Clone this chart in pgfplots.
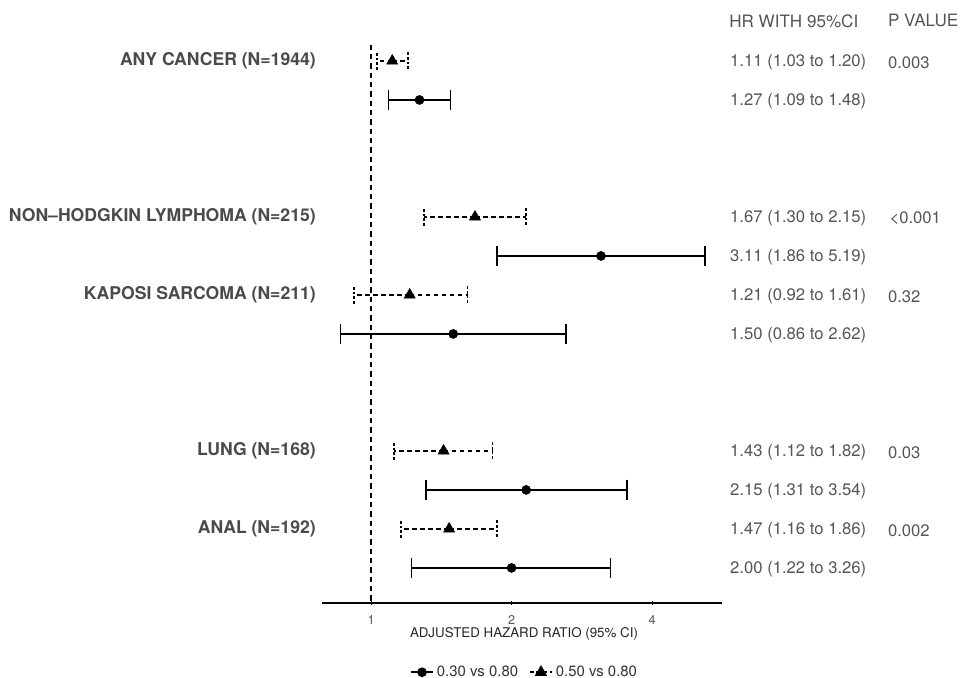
\documentclass[border=0pt]{standalone}
\usepackage{fontspec}
\setmainfont{TeX Gyre Heros}
\usepackage{pgfplots}
\usepackage{pgfplotstable}
\pgfplotsset{compat=1.18}
\definecolor{lab}{HTML}{4A4A4A}
\definecolor{txt}{HTML}{555555}

% rows: y = -row index
\pgfplotstableread{
y x lo hi
-1 1.27 1.09 1.48
-5 3.11 1.86 5.19
-7 1.50 0.86 2.62
-11 2.15 1.31 3.54
-13 2.00 1.22 3.26
}\circdata

\pgfplotstableread{
y x lo hi
0 1.11 1.03 1.20
-4 1.67 1.30 2.15
-6 1.21 0.92 1.61
-10 1.43 1.12 1.82
-12 1.47 1.16 1.86
}\tridata

\newcommand{\lbl}{\bfseries\fontsize{13.2}{15}\selectfont}
\newcommand{\rtx}{\fontsize{12.5}{15}\selectfont}

\begin{document}
\begin{tikzpicture}
\begin{axis}[
  name=ax,
  scale only axis,
  width=300pt, height=418.8pt,
  xmode=log, log basis x=2,
  xmin=0.785, xmax=5.65,
  ymin=-13.9, ymax=0.42,
  axis x line=bottom, axis y line=none,
  x axis line style={-, line width=0.9pt},
  xtick={1,2,4}, xticklabels={1,2,4},
  tick align=center, major tick length=3pt,
  tick style={black, line width=0.6pt},
  xticklabel style={text=txt, font=\fontsize{9.5}{11}\selectfont, yshift=-4pt},
  xlabel={ADJUSTED HAZARD RATIO (95\% CI)},
  xlabel style={at={(axis description cs:0.505,0)}, anchor=center, yshift=-23.5pt, font=\fontsize{10}{12}\selectfont, text=black!85},
  clip=false,
  legend columns=2,
  legend style={at={(0.507,-0.124)}, anchor=center, draw=none, fill=none,
    font=\fontsize{11.2}{13}\selectfont, text=black!80,
    /tikz/every even column/.append style={column sep=6pt}},
]
% reference line at HR = 1
\addplot[black, line width=1pt, dash pattern=on 4pt off 3pt, forget plot] coordinates {(1,0.42) (1,-13.9)};

% 0.30 vs 0.80 (circles, solid CIs)
\addplot[only marks, mark=*, mark size=3.4pt, black, forget plot,
  error bars/.cd, x dir=both, x explicit,
  error bar style={line width=1.25pt, solid},
  error mark options={rotate=90, mark size=7.7pt, line width=1.25pt}]
  table[x=x, y=y, x error plus expr=\thisrow{hi}-\thisrow{x}, x error minus expr=\thisrow{x}-\thisrow{lo}] {\circdata};

% 0.50 vs 0.80 (triangles, dashed CIs)
\addplot[only marks, mark=triangle*, mark size=4.8pt, black, forget plot,
  error bars/.cd, x dir=both, x explicit,
  error bar style={line width=1.25pt, dash pattern=on 3.5pt off 2.5pt},
  error mark options={rotate=90, mark size=6.5pt, line width=1.25pt, dash pattern=on 2pt off 1.5pt}]
  table[x=x, y=y, x error plus expr=\thisrow{hi}-\thisrow{x}, x error minus expr=\thisrow{x}-\thisrow{lo}] {\tridata};

\addlegendimage{black, line width=1.2pt, mark=*, mark size=3pt}
\addlegendimage{black, line width=1.2pt, dash pattern=on 3pt off 2pt, mark=triangle*, mark size=4.2pt, mark options={solid}}
\legend{0.30 vs 0.80, 0.50 vs 0.80}

% left labels
\node[anchor=east, text=lab, font=\lbl, inner sep=0pt] at (axis cs:0.762,0) {ANY CANCER (N=1944)};
\node[anchor=east, text=lab, font=\lbl, inner sep=0pt] at (axis cs:0.762,-4) {NON--HODGKIN LYMPHOMA (N=215)};
\node[anchor=east, text=lab, font=\lbl, inner sep=0pt] at (axis cs:0.762,-6) {KAPOSI SARCOMA (N=211)};
\node[anchor=east, text=lab, font=\lbl, inner sep=0pt] at (axis cs:0.762,-10) {LUNG (N=168)};
\node[anchor=east, text=lab, font=\lbl, inner sep=0pt] at (axis cs:0.762,-12) {ANAL (N=192)};

% headers
\node[anchor=west, text=txt, font=\fontsize{12.8}{15}\selectfont, inner sep=0pt] at (axis cs:5.85,1.03) {HR WITH 95\%CI};
\node[anchor=west, text=txt, font=\fontsize{12.8}{15}\selectfont, inner sep=0pt] at (axis cs:12.8,1.03) {P VALUE};

% HR column
\node[anchor=west, text=txt, font=\rtx, inner sep=0pt] at (axis cs:5.876,-0.04) {1.11 (1.03 to 1.20)};
\node[anchor=west, text=txt, font=\rtx, inner sep=0pt] at (axis cs:5.876,-1.04) {1.27 (1.09 to 1.48)};
\node[anchor=west, text=txt, font=\rtx, inner sep=0pt] at (axis cs:5.876,-4.04) {1.67 (1.30 to 2.15)};
\node[anchor=west, text=txt, font=\rtx, inner sep=0pt] at (axis cs:5.876,-5.04) {3.11 (1.86 to 5.19)};
\node[anchor=west, text=txt, font=\rtx, inner sep=0pt] at (axis cs:5.876,-6.04) {1.21 (0.92 to 1.61)};
\node[anchor=west, text=txt, font=\rtx, inner sep=0pt] at (axis cs:5.876,-7.04) {1.50 (0.86 to 2.62)};
\node[anchor=west, text=txt, font=\rtx, inner sep=0pt] at (axis cs:5.876,-10.04) {1.43 (1.12 to 1.82)};
\node[anchor=west, text=txt, font=\rtx, inner sep=0pt] at (axis cs:5.876,-11.04) {2.15 (1.31 to 3.54)};
\node[anchor=west, text=txt, font=\rtx, inner sep=0pt] at (axis cs:5.876,-12.04) {1.47 (1.16 to 1.86)};
\node[anchor=west, text=txt, font=\rtx, inner sep=0pt] at (axis cs:5.876,-13.04) {2.00 (1.22 to 3.26)};

% P value column
\node[anchor=west, text=txt, font=\rtx, inner sep=0pt] at (axis cs:12.8,-0.04) {0.003};
\node[anchor=west, text=txt, font=\rtx, inner sep=0pt] at (axis cs:12.9,-4.04) {\textless 0.001};
\node[anchor=west, text=txt, font=\rtx, inner sep=0pt] at (axis cs:12.8,-6.04) {0.32};
\node[anchor=west, text=txt, font=\rtx, inner sep=0pt] at (axis cs:12.8,-10.04) {0.03};
\node[anchor=west, text=txt, font=\rtx, inner sep=0pt] at (axis cs:12.8,-12.04) {0.002};
\end{axis}
\pgfresetboundingbox
\path[use as bounding box] ([xshift=-241.5pt, yshift=-56.25pt]ax.south west) rectangle ([xshift=481.5pt, yshift=452.25pt]ax.south west);
\end{tikzpicture}
\end{document}
